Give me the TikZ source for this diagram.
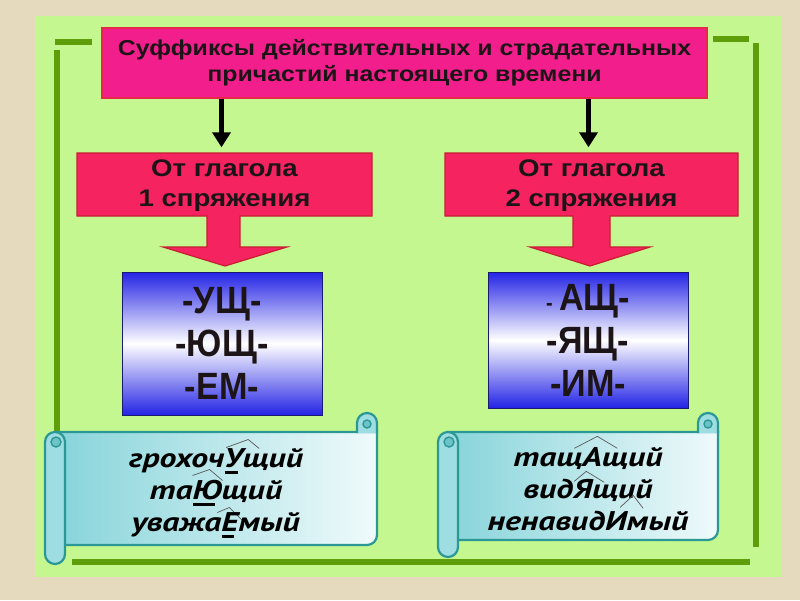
\documentclass[tikz,border=0pt]{standalone}
\usepackage{fontspec}
\setmainfont{Liberation Sans}
\newfontfamily\widesans[FakeStretch=1.15]{Liberation Sans}
\newfontfamily\narrowsans[FakeStretch=0.9]{Liberation Sans}
\newfontfamily\scrollfont[FakeStretch=1.25]{PT Sans}
\usetikzlibrary{arrows.meta}
\definecolor{parch}{HTML}{E5D9BE}
\definecolor{panel}{HTML}{C4F78F}
\definecolor{lineGreen}{HTML}{5E9E0A}
\definecolor{titleFill}{HTML}{F21E8C}
\definecolor{titleLine}{HTML}{E8284A}
\definecolor{callFill}{HTML}{F5235F}
\definecolor{callLine}{HTML}{C81E32}
\definecolor{boxBlue}{HTML}{2323E6}
\definecolor{boxLine}{HTML}{1A1A70}
\definecolor{textDark}{HTML}{1C1416}
\definecolor{scrA}{HTML}{86D4DA}
\definecolor{scrB}{HTML}{F0FAFB}
\definecolor{scrC}{HTML}{9EDDE1}
\definecolor{scrD}{HTML}{6CC3C8}
\definecolor{scrLine}{HTML}{2B9895}
\tikzset{
  greenline/.style={draw=lineGreen, line width=5.5pt},
  titlebox/.style={draw=titleLine, fill=titleFill, line width=1.2pt,
    minimum width=605pt, minimum height=70pt, inner sep=0pt, align=center,
    text=textDark, font=\widesans\bfseries\fontsize{21.6}{26}\selectfont},
  callshape/.style={fill=callFill, draw=callLine, line width=1.2pt},
  calltext/.style={minimum width=295pt, minimum height=63pt, inner sep=0pt,
    align=center, text=textDark, font=\widesans\bfseries\fontsize{24}{30}\selectfont},
  bluebox/.style={draw=boxLine, line width=1pt, top color=boxBlue, bottom color=boxBlue,
    middle color=white, minimum width=200pt, inner sep=0pt, align=center,
    text=textDark, font=\narrowsans\bfseries\fontsize{38}{43}\selectfont},
  blkarrow/.style={draw=black, line width=4.5pt, -{Triangle[width=18pt,length=15pt]}, shorten >=7pt},
  scrollbody/.style={draw=scrLine, line width=2.2pt, left color=scrA, right color=scrB},
  scrollpart/.style={draw=scrLine, line width=2.2pt, fill=scrC},
  scrolltext/.style={align=center, text=black, inner sep=0pt,
    font=\scrollfont\bfseries\itshape\fontsize{27}{32}\selectfont},
  carline/.style={draw=black!65, line width=0.7pt},
}
% underline for a letter
\newcommand\sfxul[1]{\setbox0=\hbox{#1}\rlap{\kern0.02\wd0\rule[-6pt]{0.75\wd0}{2.6pt}}\box0}
% caret mark, coordinates relative to current point (x right, y up)
\newcommand\sfxcaret[6]{\tikz[overlay,x=1pt,y=1pt,baseline=0pt]\draw[carline] (#1,#2) -- (#3,#4) -- (#5,#6);}
% scroll: L R T B TB
\newcommand\drawscroll[5]{%
  \path[scrollbody] (#1+10,#3) -- (#2,#3) -- (#2,#4-10)
     arc[start angle=0,end angle=90,radius=10] -- (#1+10,#4) -- cycle;
  \path[scrollpart] (#2-20,#3+1) -- (#2-20,#3-9)
     arc[start angle=180,end angle=360,radius=10] -- (#2,#3+1);
  \draw[scrLine, line width=1.4pt, fill=scrD] (#2-10,#3-8) circle[radius=4];
  \draw[scrollpart, rounded corners=10pt] (#1,#3) rectangle (#1+20,#5);
  \draw[scrLine, line width=1.4pt, fill=scrD] (#1+11,#3+10) circle[radius=5];
}
\begin{document}
\begin{tikzpicture}[x=1pt,y=-1pt]
\useasboundingbox (0,0) rectangle (800,600);
\fill[parch] (0,0) rectangle (800,600);
\fill[panel] (35,16) rectangle (781,577);
% decorative frame lines
\draw[greenline] (55,42) -- (92,42);
\draw[greenline] (57,50) -- (57,547);
\draw[greenline] (713,39) -- (749,39);
\draw[greenline] (756,43) -- (756,547);
\draw[greenline] (72,562) -- (750,562);

% title
\node[titlebox] (title) at (404.5,63)
  {Суффиксы действительных и страдательных\\причастий настоящего времени};

% callout shapes
\path[callshape] (77,153) -- (372,153) -- (372,216) -- (240,216) -- (240,247)
  -- (287,247) -- (225,266) -- (163,247) -- (207,247) -- (207,216) -- (77,216) -- cycle;
\path[callshape] (445,153) -- (738,153) -- (738,216) -- (610,216) -- (610,247)
  -- (650,247) -- (590,266) -- (530,247) -- (573,247) -- (573,216) -- (445,216) -- cycle;
\node[calltext] (c1) at (224.5,186) {От глагола\\1 спряжения};
\node[calltext] (c2) at (591.5,186) {От глагола\\ 2 спряжения};

\draw[blkarrow] ([xshift=-3pt]title.south -| c1.north) -- ([xshift=-3pt]c1.north);
\draw[blkarrow] ([xshift=-3pt]title.south -| c2.north) -- ([xshift=-3pt]c2.north);

% blue boxes
\node[bluebox, minimum height=143pt] (b1) at (222,343.5) {-УЩ-\\-ЮЩ-\\-ЕМ-};
\node[bluebox, minimum height=136pt] (b2) at (588,340)
  {{\fontsize{22}{43}\selectfont -}\,АЩ-\\-ЯЩ-\\-ИМ-};

% scrolls
\drawscroll{45}{377}{432}{545}{564}
\drawscroll{438}{718}{432}{540}{557}

\node[scrolltext] (s1) at (216,493)
  {грохоч\sfxcaret{2}{20}{24}{28}{35}{19}\sfxul{У}щий\\
   та\sfxcaret{0}{24}{17}{30}{30}{19}\sfxul{Ю}щий\\
   уважа\sfxcaret{-4}{19}{8}{24}{21}{11}\sfxul{Е}мый};
\node[scrolltext] (s2) at (588,489)
  {тащ\sfxcaret{-8}{18}{15}{30}{35}{18}Ащий\\
   вид\sfxcaret{1}{17}{13}{27}{31}{16}Ящий\\
   ненавид\sfxcaret{15}{23}{28}{35}{38}{22}Имый};
\end{tikzpicture}
\end{document}
